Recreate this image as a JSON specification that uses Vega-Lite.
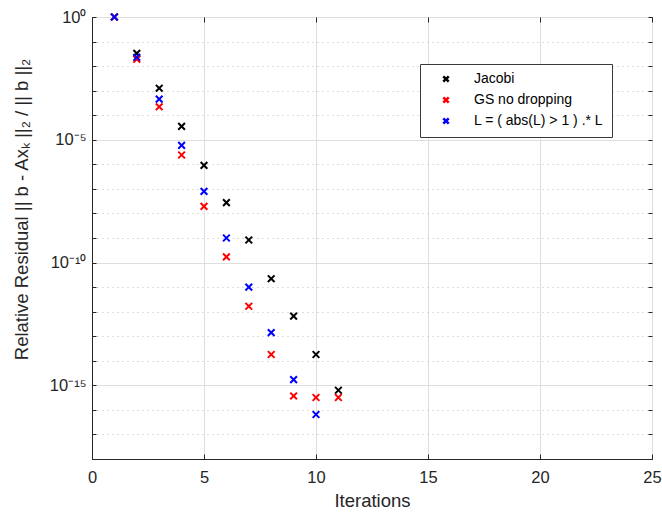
{
  "$schema": "https://vega.github.io/schema/vega-lite/v6.json",
  "width": 560,
  "height": 442,
  "autosize": {"type": "none"},
  "padding": {"left": 92, "top": 17, "right": 10, "bottom": 54},
  "background": "white",
  "config": {
    "font": "Liberation Sans",
    "view": {"stroke": "#262626", "strokeWidth": 1},
    "axis": {"labelColor": "#262626", "titleColor": "#262626", "titleFontWeight": "normal", "domainColor": "#262626", "tickColor": "#262626"}
  },
  "data": {"values": [
    {"it": 1, "method": "Jacobi", "res": 1},
    {"it": 2, "method": "Jacobi", "res": 3.3e-2},
    {"it": 3, "method": "Jacobi", "res": 1.26e-3},
    {"it": 4, "method": "Jacobi", "res": 3.5e-5},
    {"it": 5, "method": "Jacobi", "res": 9.1e-7},
    {"it": 6, "method": "Jacobi", "res": 2.75e-8},
    {"it": 7, "method": "Jacobi", "res": 8.3e-10},
    {"it": 8, "method": "Jacobi", "res": 2.2e-11},
    {"it": 9, "method": "Jacobi", "res": 6.6e-13},
    {"it": 10, "method": "Jacobi", "res": 1.8e-14},
    {"it": 11, "method": "Jacobi", "res": 6.3e-16},
    {"it": 1, "method": "GS no dropping", "res": 1},
    {"it": 2, "method": "GS no dropping", "res": 1.9e-2},
    {"it": 3, "method": "GS no dropping", "res": 2.2e-4},
    {"it": 4, "method": "GS no dropping", "res": 2.4e-6},
    {"it": 5, "method": "GS no dropping", "res": 1.95e-8},
    {"it": 6, "method": "GS no dropping", "res": 1.7e-10},
    {"it": 7, "method": "GS no dropping", "res": 1.66e-12},
    {"it": 8, "method": "GS no dropping", "res": 1.8e-14},
    {"it": 9, "method": "GS no dropping", "res": 3.7e-16},
    {"it": 10, "method": "GS no dropping", "res": 3.2e-16},
    {"it": 11, "method": "GS no dropping", "res": 3.2e-16},
    {"it": 1, "method": "L = ( abs(L) > 1 ) .* L", "res": 1},
    {"it": 2, "method": "L = ( abs(L) > 1 ) .* L", "res": 2.3e-2},
    {"it": 3, "method": "L = ( abs(L) > 1 ) .* L", "res": 4.5e-4},
    {"it": 4, "method": "L = ( abs(L) > 1 ) .* L", "res": 5.9e-6},
    {"it": 5, "method": "L = ( abs(L) > 1 ) .* L", "res": 7.9e-8},
    {"it": 6, "method": "L = ( abs(L) > 1 ) .* L", "res": 1.0e-9},
    {"it": 7, "method": "L = ( abs(L) > 1 ) .* L", "res": 1.0e-11},
    {"it": 8, "method": "L = ( abs(L) > 1 ) .* L", "res": 1.4e-13},
    {"it": 9, "method": "L = ( abs(L) > 1 ) .* L", "res": 1.7e-15},
    {"it": 10, "method": "L = ( abs(L) > 1 ) .* L", "res": 6.5e-17}
  ]},
  "layer": [
    {
      "mark": {"type": "point", "shape": "M-1,-1L1,1M1,-1L-1,1", "filled": false, "size": 45, "strokeWidth": 2, "opacity": 1},
      "encoding": {
        "x": {
          "field": "it", "type": "quantitative",
          "scale": {"domain": [0, 25], "nice": false},
          "axis": {
            "title": "Iterations", "titleFontSize": 18.5, "titlePadding": 6,
            "values": [0, 5, 10, 15, 20, 25], "labelFontSize": 16.5, "labelPadding": 15,
            "tickSize": -5, "grid": true, "gridColor": "#dedede", "labelFlush": false
          }
        },
        "y": {
          "field": "res", "type": "quantitative",
          "scale": {"type": "log", "domain": [1e-18, 1], "nice": false},
          "axis": {
            "title": "Relative Residual || b - Axₖ ||₂ / || b ||₂", "titleFontSize": 18.5,
            "titleAngle": 270, "titleX": -71, "titleY": 192, "titleAlign": "center", "titleBaseline": "middle",
            "values": [1, 1e-1, 1e-2, 1e-3, 1e-4, 1e-5, 1e-6, 1e-7, 1e-8, 1e-9, 1e-10, 1e-11, 1e-12, 1e-13, 1e-14, 1e-15, 1e-16, 1e-17, 1e-18],
            "labelExpr": "round(log(datum.value)/LN10) === 0 ? '10⁰' : round(log(datum.value)/LN10) === -5 ? '10⁻⁵' : round(log(datum.value)/LN10) === -10 ? '10⁻¹⁰' : round(log(datum.value)/LN10) === -15 ? '10⁻¹⁵' : ''",
            "labelFontSize": 16.5, "labelPadding": 10, "labelFlush": false,
            "tickSize": -4,
            "grid": true,
            "gridColor": {"condition": {"test": "round(log(datum.value)/LN10) % 5 === 0", "value": "#dedede"}, "value": "#bdbdbd"},
            "gridDash": {"condition": {"test": "round(log(datum.value)/LN10) % 5 === 0", "value": []}, "value": [1, 4]}
          }
        },
        "color": {
          "field": "method", "type": "nominal",
          "scale": {"domain": ["Jacobi", "GS no dropping", "L = ( abs(L) > 1 ) .* L"], "range": ["#000000", "#ff0000", "#0000ff"]},
          "legend": {
            "title": null, "orient": "none", "legendX": 328, "legendY": 47,
            "fillColor": "white", "strokeColor": "#3a3a3a", "padding": 8,
            "symbolOffset": 11, "symbolSize": 30, "symbolStrokeWidth": 2.5, "symbolType": "M-1,-1L1,1M1,-1L-1,1",
            "labelFontSize": 14, "labelOffset": 21, "labelColor": "#000000", "rowPadding": 5
          }
        }
      }
    },
    {
      "mark": {"type": "point", "opacity": 0},
      "encoding": {
        "x": {
          "field": "it", "type": "quantitative",
          "axis": {"orient": "top", "title": null, "labels": false, "domain": false, "grid": false, "values": [0, 5, 10, 15, 20, 25], "tickSize": -5}
        },
        "y": {
          "field": "res", "type": "quantitative",
          "axis": {"orient": "right", "title": null, "labels": false, "domain": false, "grid": false, "values": [1, 1e-1, 1e-2, 1e-3, 1e-4, 1e-5, 1e-6, 1e-7, 1e-8, 1e-9, 1e-10, 1e-11, 1e-12, 1e-13, 1e-14, 1e-15, 1e-16, 1e-17, 1e-18], "tickSize": -4}
        }
      }
    }
  ],
  "resolve": {"axis": {"x": "independent", "y": "independent"}}
}
